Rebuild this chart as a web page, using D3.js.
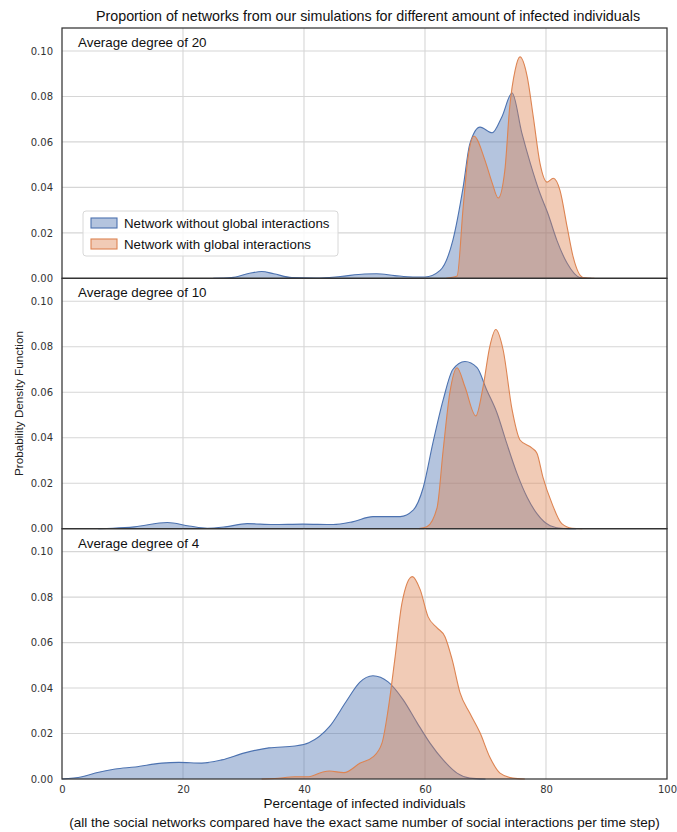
<!DOCTYPE html>
<html>
<head>
<meta charset="utf-8">
<script src="https://cdn.jsdelivr.net/npm/d3@7"></script>
<style>
  html, body { margin: 0; padding: 0; background: #ffffff; }
  svg { display: block; }
</style>
</head>
<body>
<svg id="chart" width="677" height="832"></svg>
<script>
// Panel titles (top to bottom)
const panelTitles = ["Average degree of 20", "Average degree of 10", "Average degree of 4"];
const seriesNames = ["Network without global interactions", "Network with global interactions"];
const xTicks = [0, 20, 40, 60, 80, 100];
const yTicks = [0.00, 0.02, 0.04, 0.06, 0.08, 0.10];

// Density estimates: percentage of infected individuals -> density
// Average degree of 20, without global interactions
const deg20NoGlobalX = [25, 28, 31, 33, 35, 38, 42, 46, 50, 52, 55, 58, 60, 62.5, 64.6, 66.3, 67.4, 69.1, 71.1, 72.7, 74.4, 76.0, 77.4, 79.0, 80.3, 81.8, 83.5, 85.6, 87.5];
const deg20NoGlobalY = [0, 0.0003, 0.0022, 0.003, 0.002, 0.0003, 0.0001, 0.0008, 0.0019, 0.002, 0.0012, 0.0006, 0.0006, 0.0035, 0.0167, 0.040, 0.059, 0.0665, 0.064, 0.071, 0.0815, 0.064, 0.0507, 0.0374, 0.0286, 0.0167, 0.0066, 0.0004, 0];
// Average degree of 20, with global interactions
const deg20GlobalX = [63.5, 65.3, 66.3, 67.1, 68.1, 69.9, 71.1, 72.1, 73.2, 74.0, 74.9, 75.7, 76.9, 77.9, 79.0, 80.2, 81.2, 82.3, 83.5, 84.5, 86.1, 88];
const deg20GlobalY = [0, 0.001, 0.031, 0.053, 0.0625, 0.052, 0.042, 0.0353, 0.0476, 0.0753, 0.0916, 0.0974, 0.0886, 0.071, 0.0507, 0.0423, 0.044, 0.0388, 0.0225, 0.0093, 0.0004, 0];

// Average degree of 10, without global interactions
const deg10NoGlobalX = [6, 8.4, 12, 17.4, 21, 24, 27, 30.6, 34.9, 39.8, 44.8, 48, 51.4, 55.9, 58.0, 59.7, 61.3, 63.0, 64.6, 66.6, 68.6, 70.2, 71.9, 73.5, 75.2, 76.9, 78.5, 80.7, 82.9, 85];
const deg10NoGlobalY = [0, 0.0002, 0.0008, 0.0027, 0.0012, 0.0002, 0.0008, 0.0022, 0.0018, 0.002, 0.0018, 0.003, 0.0053, 0.0053, 0.008, 0.018, 0.0376, 0.0566, 0.070, 0.0735, 0.0708, 0.061, 0.0509, 0.0376, 0.0243, 0.0137, 0.0066, 0.0013, 0.0001, 0];
// Average degree of 10, with global interactions
const deg10GlobalX = [59, 60.3, 62.0, 63.0, 64.1, 65.3, 66.6, 68.4, 69.6, 70.7, 71.7, 72.9, 74.4, 75.7, 77.7, 78.5, 79.5, 81.0, 82.6, 84.3, 86];
const deg10GlobalY = [0, 0.0008, 0.0093, 0.0345, 0.0597, 0.0708, 0.0624, 0.0496, 0.0624, 0.080, 0.0876, 0.0788, 0.0522, 0.039, 0.0354, 0.0332, 0.0226, 0.011, 0.0022, 0.0002, 0];

// Average degree of 4, without global interactions
const deg4NoGlobalX = [0, 3.3, 5.5, 8.8, 12.1, 16.5, 19.3, 23.1, 26.4, 30.2, 34.2, 38.5, 40.8, 44.2, 47.0, 49.2, 51.4, 53.9, 56.4, 58.7, 60.8, 63.0, 65.3, 67.4, 70];
const deg4NoGlobalY = [0, 0.001, 0.0026, 0.0044, 0.0053, 0.007, 0.0073, 0.007, 0.0084, 0.0115, 0.0137, 0.0145, 0.0159, 0.023, 0.0342, 0.0425, 0.0454, 0.0427, 0.0348, 0.0247, 0.0159, 0.0084, 0.0026, 0.0004, 0];
// Average degree of 4, with global interactions
const deg4GlobalX = [33, 35.2, 38.5, 40.8, 43.0, 44.2, 46.6, 49.3, 51.4, 52.9, 53.9, 55.0, 56.2, 57.9, 59.2, 60.5, 62.0, 63.3, 64.5, 65.8, 67.4, 69.1, 70.7, 72.4, 74.5, 76.5];
const deg4GlobalY = [0, 0.0002, 0.001, 0.001, 0.003, 0.0035, 0.0028, 0.007, 0.0097, 0.0159, 0.0304, 0.0524, 0.0775, 0.089, 0.0833, 0.0714, 0.0665, 0.0626, 0.0524, 0.0379, 0.029, 0.0203, 0.0097, 0.0026, 0.0004, 0];

const panelSeries = [
  [[deg20NoGlobalX, deg20NoGlobalY], [deg20GlobalX, deg20GlobalY]],
  [[deg10NoGlobalX, deg10NoGlobalY], [deg10GlobalX, deg10GlobalY]],
  [[deg4NoGlobalX, deg4NoGlobalY], [deg4GlobalX, deg4GlobalY]]
];

const colors = ["#4C72B0", "#DD8452"];
const textFont = "Liberation Sans, Arial, sans-serif";

const svg = d3.select("#chart");
const plotLeft = 62, plotRight = 667, plotTop = 28, plotBottom = 779;
const panelH = (plotBottom - plotTop) / 3;

svg.append("rect").attr("width", 677).attr("height", 832).attr("fill", "#ffffff");

const x = d3.scaleLinear().domain([0, 100]).range([plotLeft, plotRight]);

// Figure title
svg.append("text")
  .attr("x", 368).attr("y", 21)
  .attr("text-anchor", "middle")
  .attr("font-family", textFont)
  .attr("font-size", 14.3).attr("fill", "#111")
  .text("Proportion of networks from our simulations for different amount of infected individuals");

panelSeries.forEach((series, i) => {
  const y0 = plotTop + i * panelH;
  const y = d3.scaleLinear().domain([0, 0.1101]).range([y0 + panelH, y0]);
  const g = svg.append("g");

  // grid
  g.append("g").selectAll("line")
    .data(xTicks.filter(t => t > 0 && t < 100))
    .join("line")
    .attr("x1", d => x(d)).attr("x2", d => x(d))
    .attr("y1", y0).attr("y2", y0 + panelH)
    .attr("stroke", "#d6d6d6").attr("stroke-width", 1.1);
  g.append("g").selectAll("line")
    .data(yTicks.filter(t => t > 0))
    .join("line")
    .attr("x1", plotLeft).attr("x2", plotRight)
    .attr("y1", d => y(d)).attr("y2", d => y(d))
    .attr("stroke", "#d6d6d6").attr("stroke-width", 1.1);

  // y tick labels
  const yAxis = d3.axisLeft(y).tickValues(yTicks).tickSize(0).tickPadding(9)
    .tickFormat(d3.format(".2f"));
  const ya = g.append("g").attr("transform", `translate(${plotLeft},0)`).call(yAxis);
  ya.select(".domain").remove();
  ya.selectAll("text")
    .attr("font-family", "DejaVu Sans, sans-serif")
    .attr("font-size", 10).attr("fill", "#333");

  // density areas
  series.forEach(([xs, ys], k) => {
    const pts = xs.map((v, j) => [v, ys[j]]);
    const area = d3.area()
      .x(d => x(d[0])).y0(y(0)).y1(d => y(d[1]))
      .curve(d3.curveMonotoneX);
    const line = d3.line()
      .x(d => x(d[0])).y(d => y(d[1]))
      .curve(d3.curveMonotoneX);
    g.append("path").datum(pts)
      .attr("d", area)
      .attr("fill", colors[k]).attr("fill-opacity", 0.42);
    g.append("path").datum(pts)
      .attr("d", line)
      .attr("fill", "none").attr("stroke", colors[k]).attr("stroke-width", 1.1);
  });

  // panel title
  g.append("text")
    .attr("x", 78).attr("y", y0 + 19)
    .attr("font-family", textFont)
    .attr("font-size", 13.4).attr("fill", "#111")
    .text(panelTitles[i]);

  // frame
  g.append("rect")
    .attr("x", plotLeft).attr("y", y0).attr("width", plotRight - plotLeft).attr("height", panelH)
    .attr("fill", "none").attr("stroke", "#333").attr("stroke-width", 1.25);
});

// x axis tick labels
const xAxis = d3.axisBottom(x).tickValues(xTicks).tickSize(0).tickPadding(7);
const xa = svg.append("g").attr("transform", `translate(0,${plotBottom})`).call(xAxis);
xa.select(".domain").remove();
xa.selectAll("text")
  .attr("font-family", "DejaVu Sans, sans-serif")
  .attr("font-size", 10).attr("fill", "#333");

// axis labels
svg.append("text")
  .attr("x", (plotLeft + plotRight) / 2).attr("y", 808)
  .attr("text-anchor", "middle")
  .attr("font-family", textFont)
  .attr("font-size", 13.5).attr("fill", "#111")
  .text("Percentage of infected individuals");
svg.append("text")
  .attr("x", (plotLeft + plotRight) / 2).attr("y", 827)
  .attr("text-anchor", "middle")
  .attr("font-family", textFont)
  .attr("font-size", 13.5).attr("fill", "#111")
  .text("(all the social networks compared have the exact same number of social interactions per time step)");
svg.append("text")
  .attr("transform", `translate(23,${(plotTop + plotBottom) / 2}) rotate(-90)`)
  .attr("text-anchor", "middle")
  .attr("font-family", textFont)
  .attr("font-size", 11.7).attr("fill", "#222")
  .text("Probability Density Function");

// legend
const lg = svg.append("g");
lg.append("rect")
  .attr("x", 83).attr("y", 211).attr("width", 255).attr("height", 45)
  .attr("rx", 3).attr("fill", "#ffffff").attr("fill-opacity", 0.8)
  .attr("stroke", "#d8d8d8").attr("stroke-width", 1);
seriesNames.forEach((name, k) => {
  const ly = 218 + k * 21;
  lg.append("rect")
    .attr("x", 91).attr("y", ly).attr("width", 26).attr("height", 10)
    .attr("fill", colors[k]).attr("fill-opacity", 0.42)
    .attr("stroke", colors[k]).attr("stroke-width", 1.1);
  lg.append("text")
    .attr("x", 124).attr("y", ly + 10)
    .attr("font-family", textFont)
    .attr("font-size", 13.3).attr("fill", "#111")
    .text(name);
});
</script>
</body>
</html>
